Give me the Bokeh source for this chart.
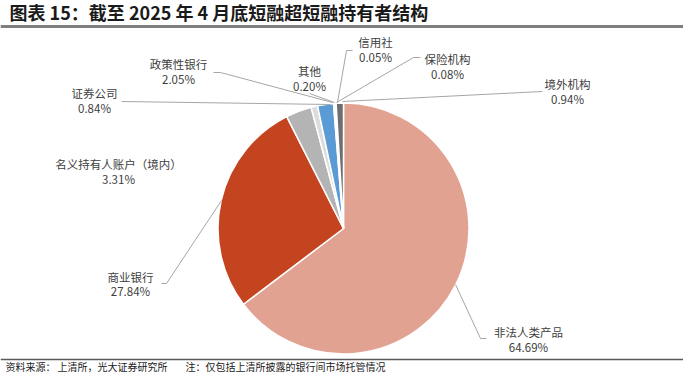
import numpy as np
from bokeh.plotting import figure
from bokeh.models import Range1d, ColumnDataSource
from bokeh.core.properties import value
from bokeh.embed import file_html
from bokeh.resources import INLINE

# ---- data ----
categories = ["非法人类产品", "商业银行", "名义持有人账户（境内）", "证券公司", "政策性银行",
              "其他", "信用社", "保险机构", "境外机构"]
shares = [64.69, 27.84, 3.31, 0.84, 2.05, 0.20, 0.05, 0.08, 0.94]
colors = ["#E1A291", "#C3441F", "#B4B4B4", "#DCDCDC", "#5B9BD5",
          "#F0F0F0", "#FAFAFA", "#E8E8E8", "#6E6E6E"]
title_text = "图表 15：截至 2025 年 4 月底短融超短融持有者结构"
footer_parts = ["资料来源：", "上清所，光大证券研究所", "注：仅包括上清所披露的银行间市场托管情况"]

# ---- layout (reference pixel coords, converted to figure coords) ----
W, H = 683, 373
FONT = "Noto Sans CJK SC"
DY_MAIN = 10

def sx(x):
    return x - 8

def sy(y, dy=DY_MAIN):
    return H - (y - dy)

cx, cy, R = 351, 238, 125.5

# label centre x, y of first line, y of second line
label_pos = [
    (536, 341, 356),
    (138, 286, 300),
    (126, 173, 188),
    (102, 102, 117),
    (186, 73, 88),
    (317, 80, 95),
    (383, 51, 66),
    (455, 68, 83),
    (575, 93, 108),
]
leaders = [
    [(463, 294), (488, 348), (494, 348)],
    [(229, 210), (174, 293), (169, 293)],
    None,
    [(129, 111), (338, 114)],
    [(221, 82), (228, 82), (340, 112)],
    [(317, 103), (342, 112)],
    [(360, 60), (354, 60), (345, 112)],
    [(428, 67), (421, 67), (344, 112)],
    [(550, 101), (350, 111)],
]
footer_x = [13, 65, 193]

p = figure(width=W, height=H, output_backend="svg", toolbar_location=None,
           x_range=Range1d(0, W), y_range=Range1d(0, H), min_border=0)
p.axis.visible = False
p.grid.visible = False
p.outline_line_color = None
p.background_fill_color = "white"

# pie: clockwise from 12 o'clock
vals = np.array(shares, dtype=float)
frac = vals / vals.sum()
cum = np.concatenate([[0.0], np.cumsum(frac)]) * 2 * np.pi
theta1 = cum[:-1]
theta2 = cum[1:]
src = ColumnDataSource(dict(
    start=np.pi / 2 - theta2,
    end=np.pi / 2 - theta1,
    color=colors,
    cat=categories,
))
p.wedge(x=sx(cx), y=sy(cy), radius=R, start_angle="start", end_angle="end",
        direction="anticlock", fill_color="color", line_color="white",
        line_width=1.5, source=src)

# leader lines
for pts in leaders:
    if pts is None:
        continue
    p.line([sx(a) for a, b in pts], [sy(b) for a, b in pts],
           line_color="#A6A6A6", line_width=1)

# labels
pct = [f"{v:.2f}%" for v in shares]
p.text(x=[sx(a) for a, b, c in label_pos], y=[sy(b) for a, b, c in label_pos],
       text=categories, text_font=value(FONT), text_font_size="11.5px",
       text_color="#404040", text_align="center", text_baseline="middle")
p.text(x=[sx(a) for a, b, c in label_pos], y=[sy(c) for a, b, c in label_pos],
       text=pct, text_font=value(FONT), text_font_size="11.5px",
       text_color="#404040", text_align="center", text_baseline="middle")

# title and rules
p.text(x=[sx(17)], y=[sy(15, 4)], text=[title_text], text_font=value(FONT),
       text_font_size="18px", text_font_style="bold", text_color="#1A1A1A",
       text_align="left", text_baseline="middle")
p.line([0, W], [sy(30, 4), sy(30, 4)], line_color="#7F7F7F", line_width=3)
p.line([0, W], [sy(368, 9), sy(368, 9)], line_color="#595959", line_width=1.5)
p.text(x=[sx(v) for v in footer_x], y=[sy(378, 12)] * 3, text=footer_parts,
       text_font=value(FONT), text_font_size="10px", text_color="#1A1A1A",
       text_align="left", text_baseline="middle")

open("out.html", "w").write(file_html(p, INLINE))
